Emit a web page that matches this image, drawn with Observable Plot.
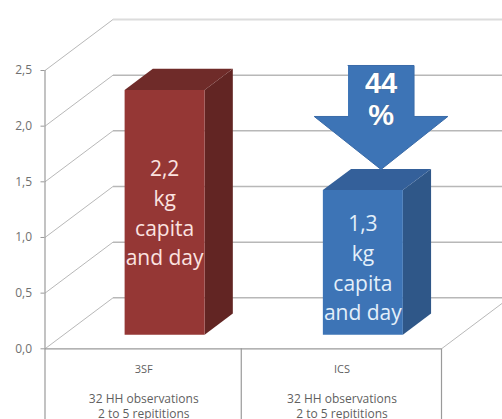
<!DOCTYPE html>
<html>
<head>
<meta charset="utf-8">
<script src="https://cdn.jsdelivr.net/npm/d3@7"></script>
<script src="https://cdn.jsdelivr.net/npm/@observablehq/plot@0.6"></script>
<style>
  html, body { margin: 0; padding: 0; background: #fff; }
  svg { display: block; }
</style>
</head>
<body>
<script>
// Daily wood consumption per stove type
const categories = ["3SF", "ICS"];
const values = [2.2, 1.3];
const detailLines = ["32 HH observations", "2 to 5 repititions"];
const barLabels = ["2,2\nkg\ncapita\nand day", "1,3\nkg\ncapita\nand day"];
const reductionLabel = ["44", "%"];
const gridValues = [0, 0.5, 1, 1.5, 2, 2.5];

// Oblique projection: one unit of depth shifts right and up on the chart
const depthX = 0.343;
const depthY = 0.458;
const px = (x, depth) => x + depth * depthX;
const py = (v, depth) => v + depth * depthY;

const barWidth = 0.4035;
const barFront = 0.275;
const barBack = 0.69;
const barNudge = 0.009;
const faces = [
  {front: "#953735", top: "#6f2b29", side: "#622523", label: "#fbe3e0"},
  {front: "#3d74b6", top: "#34609a", side: "#2f5788", label: "#e3effa"}
];

// Polygon helpers return chart-unit vertices for one face of a bar
function frontFace(c, v) {
  const a = c - barWidth / 2, b = c + barWidth / 2;
  return [[a, 0], [b, 0], [b, v], [a, v]].map(([x, y]) => ({x: px(x, barFront), y: py(y, barFront)}));
}
function topFace(c, v) {
  const a = c - barWidth / 2, b = c + barWidth / 2;
  return [
    {x: px(a, barFront), y: py(v, barFront)},
    {x: px(b, barFront), y: py(v, barFront)},
    {x: px(b, barBack), y: py(v, barBack)},
    {x: px(a, barBack), y: py(v, barBack)}
  ];
}
function sideFace(c, v) {
  const b = c + barWidth / 2;
  return [
    {x: px(b, barFront), y: py(0, barFront)},
    {x: px(b, barBack), y: py(0, barBack)},
    {x: px(b, barBack), y: py(v, barBack)},
    {x: px(b, barFront), y: py(v, barFront)}
  ];
}

const xy = {x: "x", y: "y"};
const barMarks = values.flatMap((v, i) => {
  const c = i + 0.5 + barNudge;
  const f = faces[i];
  return [
    Plot.line(sideFace(c, v), {...xy, fill: f.side, stroke: "none"}),
    Plot.line(topFace(c, v), {...xy, fill: f.top, stroke: "none"}),
    Plot.line(frontFace(c, v), {...xy, fill: f.front, stroke: "none"}),
    Plot.text([barLabels[i]], {
      x: px(c, barFront),
      y: py(v / 2, barFront),
      dy: i === 0 ? -1 : 4,
      text: d => d,
      lineHeight: 1.41,
      fontSize: 21,
      fontFamily: "Open Sans",
      fill: f.label
    })
  ];
});

// Down arrow between the two bar heights
const arrowCentre = 1.695;
const arrow = [
  [-0.1665, 2.545], [0.1665, 2.545], [0.1665, 2.087], [0.337, 2.087],
  [0, 1.611], [-0.337, 2.087], [-0.1665, 2.087]
].map(([dx, y]) => ({x: arrowCentre + dx, y}));

const wallGrey = "#b8b8b8";
const floorGrey = "#9a9a9a";
const textGrey = "#5f5f5f";

const chart = Plot.plot({
  width: 502,
  height: 419,
  marginLeft: 44.5,
  marginRight: 61,
  marginTop: 0,
  marginBottom: 0,
  style: {background: "#fff", fontFamily: "Open Sans"},
  x: {domain: [0, 2], range: [44.5, 441], axis: null},
  y: {domain: [0, 2.5], range: [348.3, 70], axis: null},
  marks: [
    // Back wall and left wall gridlines
    Plot.link(gridValues, {
      x1: px(0, 1), x2: px(2, 1) , y1: d => py(d, 1), y2: d => py(d, 1),
      stroke: d => d === 2.5 ? "#dcdcdc" : wallGrey,
      strokeWidth: d => d === 2.5 ? 2.2 : 1.5
    }),
    Plot.link(gridValues, {
      x1: 0, x2: px(0, 1), y1: d => d, y2: d => py(d, 1),
      stroke: wallGrey, strokeWidth: 1
    }),
    // Floor edge on the right
    Plot.link([0], {x1: 2, x2: px(2, 1), y1: 0, y2: py(0, 1), stroke: wallGrey, strokeWidth: 1}),
    // Category table below the floor
    Plot.ruleY([0], {x1: 0, x2: 2, stroke: floorGrey, strokeWidth: 1.2}),
    Plot.ruleX([0], {y1: -0.637, y2: 2.5, stroke: floorGrey, strokeWidth: 1.2}),
    Plot.ruleX([0.99, 2], {y1: -0.637, y2: 0, stroke: floorGrey, strokeWidth: 1.2}),
    Plot.axisY(gridValues, {
      anchor: "left",
      label: null,
      tickSize: 4,
      tickPadding: 9,
      fontSize: 12,
      stroke: floorGrey,
      fill: "#707070",
      tickFormat: d => d3.format(".1f")(d).replace(".", ",")
    }),
    ...barMarks,
    Plot.line(arrow, {...xy, fill: "#3d74b6", stroke: "#3a6ba8", strokeWidth: 1}),
    Plot.text(reductionLabel, {
      x: arrowCentre,
      y: (d, i) => [2.38, 2.09][i],
      text: d => d,
      fontSize: 29,
      fontWeight: "bold",
      fontFamily: "Liberation Sans",
      fill: "#fff",
      stroke: "#4f6f96",
      strokeWidth: 1,
      paintOrder: "stroke"
    }),
    // Category captions
    Plot.text(categories, {
      x: (d, i) => i + 0.498,
      y: -0.187,
      text: d => d,
      fontSize: 11,
      fill: textGrey
    }),
    ...detailLines.map((line, row) => Plot.text(categories, {
      x: (d, i) => i + 0.498,
      y: [-0.45, -0.59][row],
      text: () => line,
      fontSize: 12,
      fill: textGrey
    }))
  ]
});
document.body.append(chart);
</script>
</body>
</html>
